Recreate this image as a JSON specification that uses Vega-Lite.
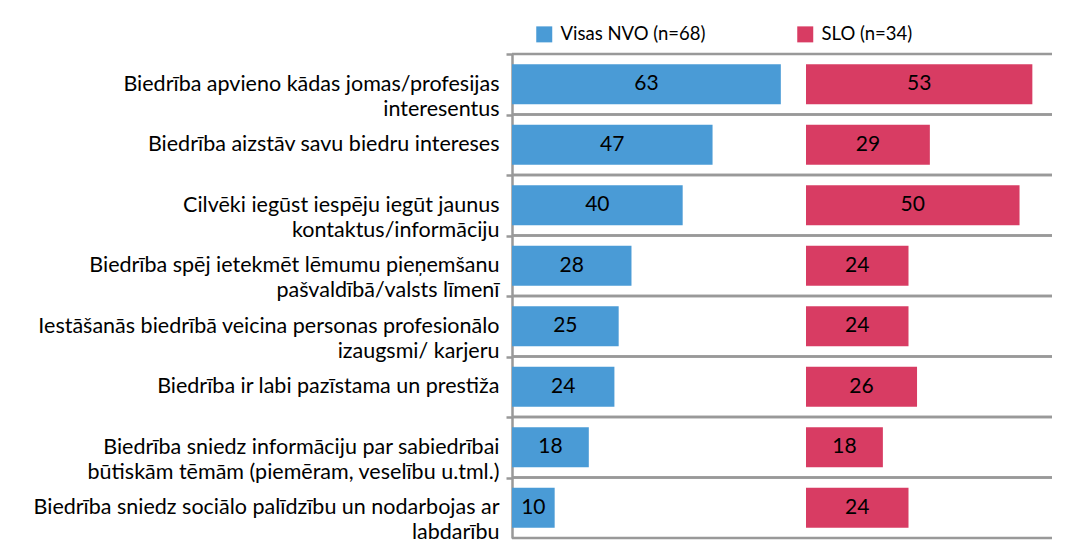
{
  "$schema": "https://vega.github.io/schema/vega-lite/v6.json",
  "padding": {"left": 33, "top": 25, "right": 10, "bottom": 0},
  "background": "white",
  "bounds": "flush",
  "config": {
    "view": {"stroke": null},
    "font": "Lato",
    "text": {"font": "Lato"}
  },
  "datasets": {
    "rows": [
      {"cat": "Biedrība apvieno kādas jomas/profesijas\ninteresentus", "group": "Visas NVO (n=68)", "value": 63},
      {"cat": "Biedrība aizstāv savu biedru intereses", "group": "Visas NVO (n=68)", "value": 47},
      {"cat": "Cilvēki iegūst iespēju iegūt jaunus\nkontaktus/informāciju", "group": "Visas NVO (n=68)", "value": 40},
      {"cat": "Biedrība spēj ietekmēt lēmumu pieņemšanu\npašvaldībā/valsts līmenī", "group": "Visas NVO (n=68)", "value": 28},
      {"cat": "Iestāšanās biedrībā veicina personas profesionālo\nizaugsmi/ karjeru", "group": "Visas NVO (n=68)", "value": 25},
      {"cat": "Biedrība ir labi pazīstama un prestiža", "group": "Visas NVO (n=68)", "value": 24},
      {"cat": "Biedrība sniedz informāciju par sabiedrībai\nbūtiskām tēmām (piemēram, veselību u.tml.)", "group": "Visas NVO (n=68)", "value": 18},
      {"cat": "Biedrība sniedz sociālo palīdzību un nodarbojas ar\nlabdarību", "group": "Visas NVO (n=68)", "value": 10},
      {"cat": "Biedrība apvieno kādas jomas/profesijas\ninteresentus", "group": "SLO (n=34)", "value": 53},
      {"cat": "Biedrība aizstāv savu biedru intereses", "group": "SLO (n=34)", "value": 29},
      {"cat": "Cilvēki iegūst iespēju iegūt jaunus\nkontaktus/informāciju", "group": "SLO (n=34)", "value": 50},
      {"cat": "Biedrība spēj ietekmēt lēmumu pieņemšanu\npašvaldībā/valsts līmenī", "group": "SLO (n=34)", "value": 24},
      {"cat": "Iestāšanās biedrībā veicina personas profesionālo\nizaugsmi/ karjeru", "group": "SLO (n=34)", "value": 24},
      {"cat": "Biedrība ir labi pazīstama un prestiža", "group": "SLO (n=34)", "value": 26},
      {"cat": "Biedrība sniedz informāciju par sabiedrībai\nbūtiskām tēmām (piemēram, veselību u.tml.)", "group": "SLO (n=34)", "value": 18},
      {"cat": "Biedrība sniedz sociālo palīdzību un nodarbojas ar\nlabdarību", "group": "SLO (n=34)", "value": 24}
    ]
  },
  "spacing": 0,
  "resolve": {"scale": {"x": "independent", "y": "shared", "color": "shared"}, "axis": {"y": "independent"}},
  "hconcat": [
    {
      "width": 294,
      "height": 484,
      "data": {"name": "rows"},
      "transform": [
        {"filter": "datum.group === 'Visas NVO (n=68)'"},
        {"calculate": "datum.value / 2", "as": "mid"}
      ],
      "layer": [
        {
          "mark": {"type": "bar", "height": {"band": 0.66}},
          "encoding": {
            "y": {
              "field": "cat", "type": "nominal", "sort": null,
              "scale": {"paddingInner": 0, "paddingOuter": 0},
              "axis": {
                "title": null,
                "labelExpr": "split(datum.label, '\\n')",
                "labelFont": "Lato",
                "labelFontSize": 21.5,
                "labelColor": "#000000",
                "labelAlign": "right",
                "labelBaseline": "middle",
                "labelLineHeight": 25,
                "labelLimit": 700,
                "labelPadding": 7,
                "labelOffset": 30.25,
                "ticks": true,
                "tickOffset": -30.25,
                "tickSize": 6,
                "tickColor": "#999999",
                "tickWidth": 2.5,
                "domain": true,
                "domainColor": "#999999",
                "domainWidth": 2.5,
                "grid": false
              }
            },
            "x": {"field": "value", "type": "quantitative", "scale": {"domain": [0, 68.9], "nice": false, "zero": true}, "axis": null},
            "color": {
              "field": "group", "type": "nominal",
              "scale": {"domain": ["Visas NVO (n=68)", "SLO (n=34)"], "range": ["#4A9BD6", "#D83C63"]},
              "legend": {
                "title": null,
                "orient": "none",
                "legendX": 23,
                "legendY": -29,
                "direction": "horizontal",
                "columns": 2,
                "columnPadding": 90,
                "symbolType": "square",
                "symbolSize": 256,
                "symbolStrokeWidth": 0,
                "symbolOpacity": 1,
                "labelFont": "Lato",
                "labelFontSize": 18.5,
                "labelColor": "#000000",
                "labelOffset": 7,
                "padding": 0
              }
            }
          }
        },
        {
          "mark": {"type": "text", "fontSize": 21, "color": "#000000", "baseline": "middle"},
          "encoding": {
            "y": {"field": "cat", "type": "nominal", "sort": null},
            "x": {"field": "mid", "type": "quantitative"},
            "text": {"field": "value", "type": "quantitative"}
          }
        },
        {
          "mark": {"type": "bar", "height": 2.5, "yOffset": -30.25, "color": "#999999"},
          "encoding": {
            "y": {"field": "cat", "type": "nominal", "sort": null},
            "x": {"datum": 0, "type": "quantitative"},
            "x2": {"datum": 68.9}
          }
        },
        {
          "mark": {"type": "bar", "height": 2.5, "yOffset": 30.25, "color": "#999999"},
          "encoding": {
            "y": {"field": "cat", "type": "nominal", "sort": null},
            "x": {"datum": 0, "type": "quantitative"},
            "x2": {"datum": 68.9}
          }
        }
      ]
    },
    {
      "width": 246,
      "height": 484,
      "data": {"name": "rows"},
      "transform": [
        {"filter": "datum.group === 'SLO (n=34)'"},
        {"calculate": "datum.value / 2", "as": "mid"}
      ],
      "layer": [
        {
          "mark": {"type": "bar", "height": {"band": 0.66}},
          "encoding": {
            "y": {"field": "cat", "type": "nominal", "sort": null, "axis": null},
            "x": {"field": "value", "type": "quantitative", "scale": {"domain": [0, 57.6], "nice": false, "zero": true}, "axis": null},
            "color": {"field": "group", "type": "nominal"}
          }
        },
        {
          "mark": {"type": "text", "fontSize": 21, "color": "#000000", "baseline": "middle"},
          "encoding": {
            "y": {"field": "cat", "type": "nominal", "sort": null},
            "x": {"field": "mid", "type": "quantitative"},
            "text": {"field": "value", "type": "quantitative"}
          }
        },
        {
          "mark": {"type": "bar", "height": 2.5, "yOffset": -30.25, "color": "#999999"},
          "encoding": {
            "y": {"field": "cat", "type": "nominal", "sort": null},
            "x": {"datum": 0, "type": "quantitative"},
            "x2": {"datum": 57.6}
          }
        },
        {
          "mark": {"type": "bar", "height": 2.5, "yOffset": 30.25, "color": "#999999"},
          "encoding": {
            "y": {"field": "cat", "type": "nominal", "sort": null},
            "x": {"datum": 0, "type": "quantitative"},
            "x2": {"datum": 57.6}
          }
        }
      ]
    }
  ]
}
